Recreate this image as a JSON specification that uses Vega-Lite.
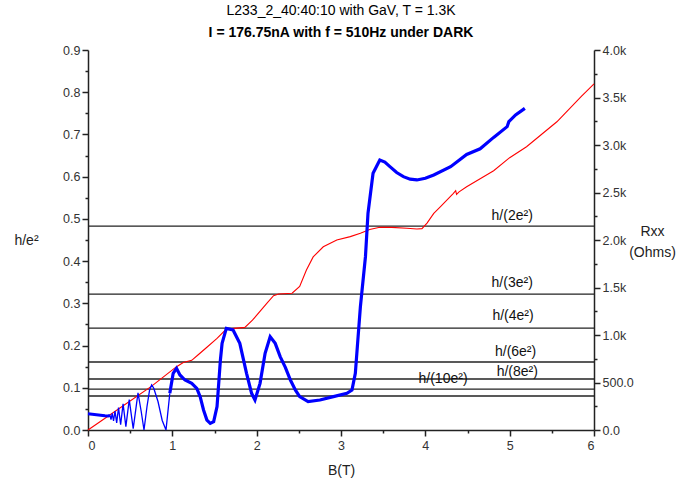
{
  "$schema": "https://vega.github.io/schema/vega-lite/v6.json",
  "width": 506,
  "height": 380,
  "autosize": {"type": "none"},
  "padding": {"left": 88, "top": 50, "right": 100, "bottom": 60},
  "background": "white",
  "title": {
    "text": "L233_2_40:40:10 with GaV, T = 1.3K",
    "subtitle": "I = 176.75nA with f = 510Hz under DARK",
    "anchor": "middle",
    "offset": 4,
    "font": "Liberation Sans",
    "fontSize": 14,
    "fontWeight": "normal",
    "color": "black",
    "subtitleFont": "Liberation Sans",
    "subtitleFontSize": 14,
    "subtitleFontWeight": "bold",
    "subtitleColor": "black",
    "subtitlePadding": 8
  },
  "config": {
    "view": {"stroke": null},
    "axis": {
      "grid": false,
      "domainColor": "#222",
      "domainWidth": 1.5,
      "tickColor": "#222",
      "tickWidth": 1.5,
      "labelFont": "Liberation Sans",
      "labelFontSize": 12.5,
      "labelColor": "#333",
      "titleFont": "Liberation Sans",
      "titleFontSize": 14,
      "titleFontWeight": "normal",
      "titleColor": "#222",
      "labelOverlap": false
    }
  },
  "datasets": {
    "levels": [
      {"v": 0.483, "label": "h/(2e²)", "lb": 5.03, "lv": 0.507},
      {"v": 0.322, "label": "h/(3e²)", "lb": 5.03, "lv": 0.348},
      {"v": 0.2415, "label": "h/(4e²)", "lb": 5.04, "lv": 0.270},
      {"v": 0.161, "label": "h/(6e²)", "lb": 5.07, "lv": 0.185},
      {"v": 0.1208, "label": "h/(8e²)", "lb": 5.09, "lv": 0.137},
      {"v": 0.0966, "label": "h/(10e²)", "lb": 4.21, "lv": 0.121},
      {"v": 0.0805, "label": "", "lb": 5.0, "lv": 0.0805}
    ],
    "hall": [
      {"B": 0, "v": 0}, {"B": 0.4, "v": 0.055}, {"B": 0.755, "v": 0.104}, {"B": 1.05, "v": 0.15},
      {"B": 1.13, "v": 0.16}, {"B": 1.23, "v": 0.165}, {"B": 1.3, "v": 0.177}, {"B": 1.41, "v": 0.196},
      {"B": 1.53, "v": 0.217}, {"B": 1.64, "v": 0.239}, {"B": 1.86, "v": 0.243}, {"B": 1.95, "v": 0.26},
      {"B": 2.12, "v": 0.30}, {"B": 2.2, "v": 0.318}, {"B": 2.26, "v": 0.322}, {"B": 2.42, "v": 0.324},
      {"B": 2.51, "v": 0.34}, {"B": 2.59, "v": 0.379}, {"B": 2.67, "v": 0.41}, {"B": 2.79, "v": 0.434},
      {"B": 2.95, "v": 0.45}, {"B": 3.11, "v": 0.458}, {"B": 3.23, "v": 0.466}, {"B": 3.34, "v": 0.475},
      {"B": 3.46, "v": 0.48}, {"B": 3.6, "v": 0.48}, {"B": 3.78, "v": 0.478}, {"B": 3.9, "v": 0.476},
      {"B": 3.96, "v": 0.477}, {"B": 4.02, "v": 0.49}, {"B": 4.1, "v": 0.513}, {"B": 4.18, "v": 0.529},
      {"B": 4.33, "v": 0.56}, {"B": 4.36, "v": 0.567}, {"B": 4.37, "v": 0.558}, {"B": 4.4, "v": 0.564},
      {"B": 4.49, "v": 0.576}, {"B": 4.69, "v": 0.60}, {"B": 4.81, "v": 0.614}, {"B": 5.0, "v": 0.645},
      {"B": 5.2, "v": 0.671}, {"B": 5.56, "v": 0.73}, {"B": 5.85, "v": 0.79}, {"B": 6.0, "v": 0.82}
    ],
    "rxx": [
      {"B": 0.0, "R": 170}, {"B": 0.05, "R": 166}, {"B": 0.1, "R": 161}, {"B": 0.15, "R": 156},
      {"B": 0.2, "R": 150}, {"B": 0.24, "R": 148}, {"B": 0.26, "R": 155}, {"B": 0.273, "R": 110},
      {"B": 0.287, "R": 175}, {"B": 0.303, "R": 95}, {"B": 0.32, "R": 200}, {"B": 0.34, "R": 75},
      {"B": 0.362, "R": 235}, {"B": 0.387, "R": 55}, {"B": 0.416, "R": 275}, {"B": 0.449, "R": 35},
      {"B": 0.489, "R": 320}, {"B": 0.536, "R": 15}, {"B": 0.593, "R": 390}, {"B": 0.63, "R": 200},
      {"B": 0.664, "R": 0}, {"B": 0.70, "R": 250}, {"B": 0.73, "R": 420}, {"B": 0.755, "R": 474},
      {"B": 0.78, "R": 440}, {"B": 0.83, "R": 300}, {"B": 0.88, "R": 100}, {"B": 0.925, "R": 0},
      {"B": 0.97, "R": 386}, {"B": 1.01, "R": 597}, {"B": 1.05, "R": 649}, {"B": 1.09, "R": 579},
      {"B": 1.15, "R": 526}, {"B": 1.23, "R": 491}, {"B": 1.29, "R": 439}, {"B": 1.33, "R": 351},
      {"B": 1.37, "R": 211}, {"B": 1.41, "R": 105}, {"B": 1.45, "R": 70}, {"B": 1.49, "R": 88},
      {"B": 1.53, "R": 246}, {"B": 1.55, "R": 491}, {"B": 1.57, "R": 737}, {"B": 1.59, "R": 912},
      {"B": 1.64, "R": 1070}, {"B": 1.72, "R": 1053}, {"B": 1.8, "R": 912}, {"B": 1.88, "R": 597},
      {"B": 1.94, "R": 386}, {"B": 1.98, "R": 316}, {"B": 2.04, "R": 491}, {"B": 2.1, "R": 807},
      {"B": 2.16, "R": 982}, {"B": 2.22, "R": 912}, {"B": 2.28, "R": 770}, {"B": 2.34, "R": 660},
      {"B": 2.4, "R": 526}, {"B": 2.46, "R": 420}, {"B": 2.51, "R": 351}, {"B": 2.61, "R": 298},
      {"B": 2.75, "R": 316}, {"B": 2.91, "R": 351}, {"B": 3.07, "R": 386}, {"B": 3.13, "R": 421},
      {"B": 3.17, "R": 596}, {"B": 3.2, "R": 950}, {"B": 3.23, "R": 1298}, {"B": 3.29, "R": 1825},
      {"B": 3.32, "R": 2281}, {"B": 3.38, "R": 2702}, {"B": 3.46, "R": 2842}, {"B": 3.52, "R": 2820},
      {"B": 3.58, "R": 2772}, {"B": 3.66, "R": 2710}, {"B": 3.74, "R": 2667}, {"B": 3.82, "R": 2640},
      {"B": 3.9, "R": 2632}, {"B": 4.0, "R": 2650}, {"B": 4.1, "R": 2684}, {"B": 4.3, "R": 2772},
      {"B": 4.49, "R": 2900}, {"B": 4.65, "R": 2960}, {"B": 4.81, "R": 3080}, {"B": 4.97, "R": 3193},
      {"B": 4.99, "R": 3246}, {"B": 5.07, "R": 3316}, {"B": 5.18, "R": 3386}
    ]
  },
  "layer": [
    {
      "layer": [
        {
          "data": {"name": "levels"},
          "mark": {"type": "rule", "color": "#222", "strokeWidth": 1.3},
          "encoding": {
            "y": {"field": "v", "type": "quantitative"}
          }
        },
        {
          "data": {"name": "hall"},
          "mark": {"type": "line", "color": "#ff0000", "strokeWidth": 1.1},
          "encoding": {
            "x": {"field": "B", "type": "quantitative"},
            "y": {"field": "v", "type": "quantitative"}
          }
        },
        {
          "data": {"name": "levels"},
          "mark": {"type": "text", "font": "Liberation Sans", "fontSize": 14, "color": "#111", "align": "center", "baseline": "middle"},
          "encoding": {
            "x": {"field": "lb", "type": "quantitative"},
            "y": {"field": "lv", "type": "quantitative"},
            "text": {"field": "label"}
          }
        }
      ],
      "encoding": {
        "x": {
          "type": "quantitative",
          "scale": {"domain": [0, 6], "nice": false, "zero": false},
          "axis": {
            "title": "B(T)",
            "values": [0, 0.5, 1, 1.5, 2, 2.5, 3, 3.5, 4, 4.5, 5, 5.5, 6],
            "labelExpr": "datum.value % 1 == 0 ? format(datum.value, 'd') : ''",
            "tickSize": {"condition": {"test": "datum.value % 1 == 0", "value": 6}, "value": 3},
            "labelPadding": 3,
            "titlePadding": 12
          }
        },
        "y": {
          "type": "quantitative",
          "scale": {"domain": [0, 0.9], "nice": false, "zero": false},
          "axis": {
            "title": "h/e²",
            "orient": "left",
            "values": [0, 0.05, 0.1, 0.15, 0.2, 0.25, 0.3, 0.35, 0.4, 0.45, 0.5, 0.55, 0.6, 0.65, 0.7, 0.75, 0.8, 0.85, 0.9],
            "labelExpr": "round(datum.value * 100) % 10 == 0 ? format(datum.value, '.1f') : ''",
            "tickSize": {"condition": {"test": "round(datum.value * 100) % 10 == 0", "value": 6}, "value": 3},
            "titleAngle": 0,
            "titleAlign": "center",
            "titleBaseline": "middle",
            "titleX": -62,
            "titleY": 190
          }
        }
      }
    },
    {
      "data": {"name": "rxx"},
      "layer": [
        {
          "transform": [{"filter": "datum.B <= 0.26"}],
          "mark": {"type": "line", "color": "#0000ff", "strokeWidth": 3}
        },
        {
          "transform": [{"filter": "datum.B >= 0.24 && datum.B <= 1.0"}],
          "mark": {"type": "line", "color": "#0000ff", "strokeWidth": 1.3}
        },
        {
          "transform": [{"filter": "datum.B >= 0.97"}],
          "mark": {"type": "line", "color": "#0000ff", "strokeWidth": 3.2}
        }
      ],
      "encoding": {
        "x": {"field": "B", "type": "quantitative", "scale": {"domain": [0, 6], "nice": false, "zero": false}},
        "y": {
          "field": "R",
          "type": "quantitative",
          "scale": {"domain": [0, 4000], "nice": false, "zero": false},
          "axis": {
            "title": ["Rxx", "(Ohms)"],
            "orient": "right",
            "values": [0, 250, 500, 750, 1000, 1250, 1500, 1750, 2000, 2250, 2500, 2750, 3000, 3250, 3500, 3750, 4000],
            "labelExpr": "datum.value == 0 ? '0.0' : datum.value == 500 ? '500.0' : datum.value % 500 == 0 ? format(datum.value / 1000, '.1f') + 'k' : ''",
            "tickSize": {"condition": {"test": "datum.value % 500 == 0", "value": 6}, "value": 3},
            "titleAngle": 0,
            "titleAlign": "center",
            "titleBaseline": "top",
            "titleLineHeight": 21,
            "titleX": 58,
            "titleY": 174
          }
        }
      }
    }
  ],
  "resolve": {"scale": {"y": "independent"}}
}
